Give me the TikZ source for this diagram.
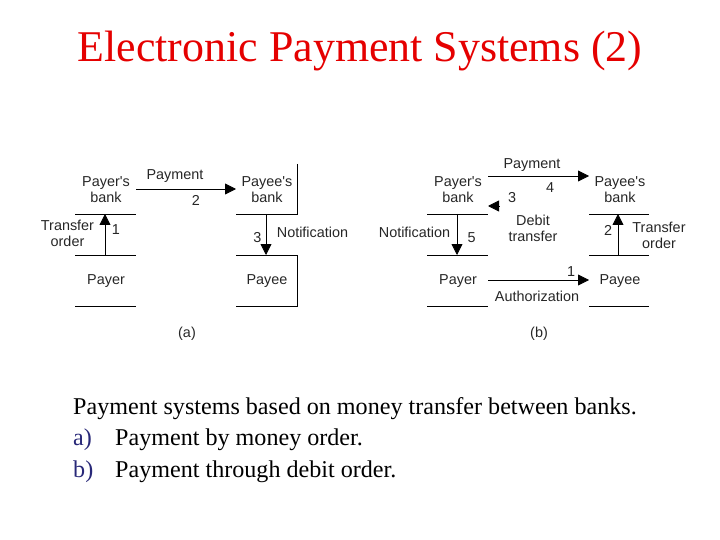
\documentclass[tikz,border=0pt]{standalone}
\usepackage{fontspec}
\setmainfont{Liberation Serif}
\newfontfamily\lblfont{Liberation Sans}
\usetikzlibrary{arrows.meta}
\definecolor{navyitem}{RGB}{40,40,120}
\tikzset{
  lbl/.style={font=\lblfont\fontsize{14.4}{16}\selectfont,text=black!85,align=center,inner sep=0pt},
  wire/.style={line width=0.8pt,black},
  flow/.style={wire,-{Triangle[length=11pt,width=11pt]}},
  body/.style={font=\fontsize{24.1}{32}\selectfont,anchor=base west,inner sep=0pt,text=black},
  ttl/.style={font=\fontsize{43.9}{44}\selectfont,text=red!90!black,inner sep=0pt,anchor=base}
}
\begin{document}
\begin{tikzpicture}[x=1pt,y=-1pt]
\useasboundingbox (0,0) rectangle (720,540);
\node[ttl] (title) at (360,61.5) {Electronic Payment Systems (2)};
\foreach \n/\x/\y in {al1/75/214,ar1/136/214,al2/75/255,ar2/136/255,al3/75/306,ar3/136/306,
  bl1/236/214,bc1/297/214,bl2/236/255,bc2/297/255,bl3/236/306,bc3/297/306,bt/297/164,
  pb/136/189,qb/236/189,u1/105/255,u2/105/214,d1/266/214,d2/266/255,
  cl1/427/214,cr1/488/214,cl2/427/255,cr2/488/255,cl3/427/306,cr3/488/306,
  dl1/589/214,dr1/649/214,dl2/589/255,dr2/649/255,dl3/589/306,dr3/649/306,
  e1/488/176,e2/589/176,f1/499/206,f2/488/206,g1/457/214,g2/457/255,h1/618/255,h2/618/214,
  i1/488/280,i2/589/280}
  \coordinate (\n) at (\x,\y);
% (a) lines
\draw[wire] (al1) -- (ar1);
\draw[wire] (al2) -- (ar2);
\draw[wire] (al3) -- (ar3);
\draw[wire] (bt) -- (bc1) -- (bl1);
\draw[wire] (bl2) -- (bc2) -- (bc3) -- (bl3);
\draw[flow] (pb) -- (qb);
\draw[flow] (u1) -- (u2);
\draw[flow] (d1) -- (d2);
% (b) lines
\draw[wire] (cl1) -- (cr1);
\draw[wire] (cl2) -- (cr2);
\draw[wire] (cl3) -- (cr3);
\draw[wire] (dl1) -- (dr1);
\draw[wire] (dl2) -- (dr2);
\draw[wire] (dl3) -- (dr3);
\draw[flow] (e1) -- (e2);
\draw[flow] (f1) -- (f2);
\draw[flow] (g1) -- (g2);
\draw[flow] (h1) -- (h2);
\draw[flow] (i1) -- (i2);
% (a) labels
\node[lbl] (a1) at (106,190) {Payer's\\bank};
\node[lbl] (a2) at (267,190) {Payee's\\bank};
\node[lbl] (a3) at (106,281) {Payer};
\node[lbl] (a4) at (267,281) {Payee};
\node[lbl] (a5) at (175,176) {Payment};
\node[lbl] (a6) at (196,200.5) {2};
\node[lbl] (a7) at (67.5,233.5) {Transfer\\order};
\node[lbl] (a8) at (116,230) {1};
\node[lbl] (a9) at (257.5,238) {3};
\node[lbl] (a10) at (312.5,232.5) {Notification};
\node[lbl] (a11) at (187,334) {(a)};
% (b) labels
\node[lbl] (b1) at (458,190) {Payer's\\bank};
\node[lbl] (b2) at (620,190) {Payee's\\bank};
\node[lbl] (b3) at (458,281) {Payer};
\node[lbl] (b4) at (620,281) {Payee};
\node[lbl] (b5) at (532,165.5) {Payment};
\node[lbl] (b6) at (550,188) {4};
\node[lbl] (b7) at (512,198) {3};
\node[lbl] (b8) at (533,228.5) {Debit\\transfer};
\node[lbl] (b9) at (414.5,232.5) {Notification};
\node[lbl] (b10) at (471.5,238) {5};
\node[lbl] (b11) at (608,230.5) {2};
\node[lbl] (b12) at (659,235.5) {Transfer\\order};
\node[lbl] (b13) at (571,271.5) {1};
\node[lbl] (b14) at (537,296) {Authorization};
\node[lbl] (b15) at (539,334) {(b)};
% caption
\node[body] (c1) at (73,414) {Payment systems based on money transfer between banks.};
\node[body,text=navyitem] (c2) at (73,445.5) {a)};
\node[body] (c3) at (115,445.5) {Payment by money order.};
\node[body,text=navyitem] (c4) at (73,477) {b)};
\node[body] (c5) at (115,477) {Payment through debit order.};
\end{tikzpicture}
\end{document}
